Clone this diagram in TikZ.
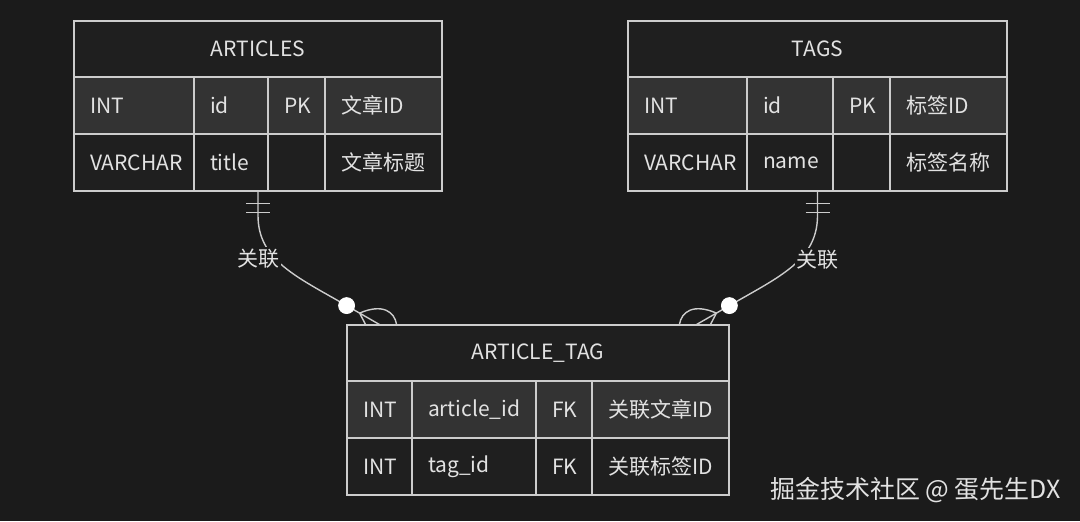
\documentclass[tikz,border=0pt]{standalone}
\usepackage{fontspec}
\setmainfont{Noto Sans CJK SC}
\usetikzlibrary{positioning, calc, fit}
\definecolor{bgc}{HTML}{1B1B1B}
\definecolor{hdrc}{HTML}{1F1F1F}
\definecolor{oddc}{HTML}{333333}
\definecolor{evenc}{HTML}{1F1F1F}
\definecolor{linec}{HTML}{CCCCCC}
\definecolor{txtc}{HTML}{E2E2E2}

\begin{document}
\begin{tikzpicture}[
    x=0.5pt, y=-0.5pt,
    font=\fontsize{10.5}{12}\selectfont, text=txtc,
    hdr/.style={draw=linec, line width=0.75pt, fill=hdrc, minimum height=28pt,
                inner sep=0pt, outer sep=0pt, anchor=north west},
    cell/.style={draw=linec, line width=0.75pt, minimum height=28.5pt,
                 inner xsep=8pt, inner ysep=0pt, outer sep=0pt,
                 anchor=north west, align=left, text width=#1},
    key/.style={cell=#1, align=center},
    odd/.style={fill=oddc},
    even/.style={fill=evenc},
    rel/.style={draw=linec, line width=0.7pt},
    dot/.style={circle, fill=white, draw=white, minimum size=8pt, inner sep=0pt},
    lbl/.style={fill=bgc, inner sep=1pt}
  ]

  \fill[bgc] (0,0) rectangle (1080,521);
  \useasboundingbox (0,0) rectangle (1080,521);

  % --- ARTICLES ---
  \node[hdr, minimum width=184pt] (art-h) at (74,21) {ARTICLES};
  \node[cell=44pt, odd] (art-11) at (art-h.south west) {INT};
  \node[cell=21pt, odd] (art-12) at (art-11.north east) {id};
  \node[key=12.5pt, odd] (art-13) at (art-12.north east) {PK};
  \node[cell=42.5pt, odd] (art-14) at (art-13.north east) {文章ID};
  \node[cell=44pt, even] (art-21) at (art-11.south west) {VARCHAR};
  \node[cell=21pt, even] (art-22) at (art-21.north east) {title};
  \node[key=12.5pt, even] (art-23) at (art-22.north east) {};
  \node[cell=42.5pt, even] (art-24) at (art-23.north east) {文章标题};
  \node[fit=(art-h)(art-24), inner sep=0pt] (articles) {};

  % --- TAGS ---
  \node[hdr, minimum width=189.5pt] (tag-h) at (628,21) {TAGS};
  \node[cell=43.5pt, odd] (tag-11) at (tag-h.south west) {INT};
  \node[cell=27pt, odd] (tag-12) at (tag-11.north east) {id};
  \node[key=12.5pt, odd] (tag-13) at (tag-12.north east) {PK};
  \node[cell=42.5pt, odd] (tag-14) at (tag-13.north east) {标签ID};
  \node[cell=43.5pt, even] (tag-21) at (tag-11.south west) {VARCHAR};
  \node[cell=27pt, even] (tag-22) at (tag-21.north east) {name};
  \node[key=12.5pt, even] (tag-23) at (tag-22.north east) {};
  \node[cell=42.5pt, even] (tag-24) at (tag-23.north east) {标签名称};
  \node[fit=(tag-h)(tag-24), inner sep=0pt] (tags) {};

  % --- ARTICLE_TAG ---
  \node[hdr, minimum width=191pt] (at-h) at (347,325) {ARTICLE\_TAG};
  \node[cell=16.5pt, odd] (at-11) at (at-h.south west) {INT};
  \node[cell=46pt, odd] (at-12) at (at-11.north east) {article\_id};
  \node[key=12pt, odd] (at-13) at (at-12.north east) {FK};
  \node[cell=52.5pt, odd] (at-14) at (at-13.north east) {关联文章ID};
  \node[cell=16.5pt, even] (at-21) at (at-11.south west) {INT};
  \node[cell=46pt, even] (at-22) at (at-21.north east) {tag\_id};
  \node[key=12pt, even] (at-23) at (at-22.north east) {FK};
  \node[cell=52.5pt, even] (at-24) at (at-23.north east) {关联标签ID};
  \node[fit=(at-h)(at-24), inner sep=0pt] (assoc) {};

  % --- Relaciones ---
  \coordinate (c1) at ($(assoc.north west)+(0,-19)$);
  \coordinate (c2) at ($(assoc.north east)+(0,-19)$);
  \coordinate (s1) at ($(c1)+(13,7.5)$);
  \coordinate (s2) at ($(c2)+(-13,7.5)$);

  \draw[rel] (articles.south) -- ++(0,24)
    .. controls ++(0,45) and ($(c1)+(-50,-29)$) .. (c1)
    -- ($(assoc.north west)+(33,0)$);
  \draw[rel] ($(articles.south)+(-12,12)$) -- +(24,0);
  \draw[rel] ($(articles.south)+(-12,21)$) -- +(24,0);
  \draw[rel] (s1) .. controls +(3,5) .. ($(assoc.north west)+(19,0)$);
  \draw[rel] (s1) .. controls ($(s1)+(23,-10)$) and ($(assoc.north west)+(48,-13)$)
    .. ($(assoc.north west)+(50,0)$);

  \draw[rel] (tags.south) -- ++(0,24)
    .. controls ++(0,45) and ($(c2)+(50,-29)$) .. (c2)
    -- ($(assoc.north east)+(-33,0)$);
  \draw[rel] ($(tags.south)+(-12,12)$) -- +(24,0);
  \draw[rel] ($(tags.south)+(-12,21)$) -- +(24,0);
  \draw[rel] (s2) .. controls +(-3,5) .. ($(assoc.north east)+(-19,0)$);
  \draw[rel] (s2) .. controls ($(s2)+(-23,-10)$) and ($(assoc.north east)+(-48,-13)$)
    .. ($(assoc.north east)+(-50,0)$);

  \node[dot] (d1) at (c1) {};
  \node[dot] (d2) at (c2) {};
  \node[lbl] (l1) at ($(articles.south)+(0,67)$) {关联};
  \node[lbl] (l2) at ($(tags.south)+(0,68)$) {关联};

  \node[anchor=west, font=\fontsize{12.5}{14}\selectfont, text=txtc] (wm)
    at (763,490) {掘金技术社区 @ 蛋先生DX};

\end{tikzpicture}
\end{document}
